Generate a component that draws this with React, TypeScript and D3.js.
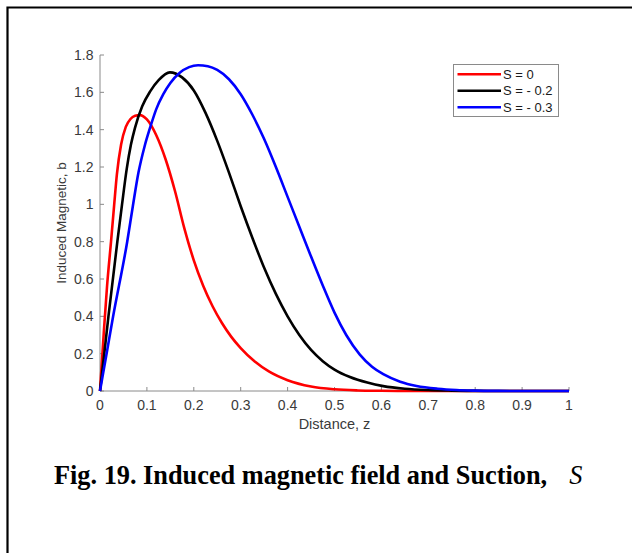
import React from "react";
import * as d3 from "d3";

const xTicks = [0, 0.1, 0.2, 0.3, 0.4, 0.5, 0.6, 0.7, 0.8, 0.9, 1];
const xTickLabels = ["0", "0.1", "0.2", "0.3", "0.4", "0.5", "0.6", "0.7", "0.8", "0.9", "1"];
const yTicks = [0, 0.2, 0.4, 0.6, 0.8, 1, 1.2, 1.4, 1.6, 1.8];
const yTickLabels = ["0", "0.2", "0.4", "0.6", "0.8", "1", "1.2", "1.4", "1.6", "1.8"];

const seriesNames = ["S = 0", "S = - 0.2", "S = - 0.3"];
const seriesColors = ["#ff0000", "#000000", "#0000ff"];

const redZ = [0, 0.008, 0.015, 0.0235, 0.03, 0.036, 0.045, 0.055, 0.065, 0.075, 0.085, 0.1, 0.12, 0.14, 0.16, 0.18, 0.2, 0.22, 0.24, 0.26, 0.28, 0.3, 0.33, 0.36, 0.4, 0.45, 0.5, 0.55, 0.6, 0.65, 0.8, 1.0];
const redB = [0, 0.31, 0.56, 0.8, 0.99, 1.16, 1.32, 1.415, 1.457, 1.474, 1.478, 1.455, 1.37, 1.24, 1.07, 0.87, 0.7, 0.564, 0.454, 0.364, 0.29, 0.23, 0.158, 0.105, 0.058, 0.024, 0.009, 0.003, 0.001, 0, 0, 0];

const blackZ = [0, 0.01, 0.018, 0.037, 0.047, 0.057, 0.066, 0.0746, 0.09, 0.107, 0.125, 0.149, 0.175, 0.2, 0.225, 0.25, 0.275, 0.3, 0.325, 0.35, 0.375, 0.4, 0.425, 0.45, 0.475, 0.5, 0.533, 0.57, 0.604, 0.65, 0.7, 0.75, 0.8, 0.85, 1.0];
const blackB = [0, 0.22, 0.4, 0.8, 1.0, 1.19, 1.32, 1.41, 1.525, 1.605, 1.665, 1.707, 1.68, 1.61, 1.49, 1.34, 1.17, 0.99, 0.82, 0.66, 0.52, 0.4, 0.3, 0.22, 0.16, 0.115, 0.075, 0.045, 0.026, 0.012, 0.005, 0.002, 0.0005, 0, 0];

const blueZ = [0, 0.014, 0.028, 0.058, 0.07, 0.082, 0.095, 0.108, 0.12, 0.135, 0.15, 0.17, 0.19, 0.209, 0.23, 0.25, 0.275, 0.3, 0.325, 0.35, 0.375, 0.4, 0.425, 0.45, 0.475, 0.5, 0.525, 0.554, 0.58, 0.604, 0.64, 0.675, 0.72, 0.76, 0.8, 0.85, 0.9, 1.0];
const blueB = [0, 0.2, 0.4, 0.8, 0.99, 1.17, 1.31, 1.42, 1.51, 1.59, 1.65, 1.705, 1.735, 1.745, 1.74, 1.72, 1.67, 1.59, 1.48, 1.35, 1.2, 1.04, 0.88, 0.72, 0.565, 0.42, 0.3, 0.195, 0.13, 0.09, 0.05, 0.027, 0.012, 0.005, 0.002, 0.0005, 0, 0];

const seriesZ = [redZ, blackZ, blueZ];
const seriesB = [redB, blackB, blueB];

const xLabel = "Distance, z";
const yLabel = "Induced Magnetic, b";
const captionMain = "Fig. 19. Induced magnetic field and Suction,";
const captionVar = "S";

export default function App() {
  const W = 632, H = 553;
  const x = d3.scaleLinear().domain([0, 1]).range([100, 569]);
  const y = d3.scaleLinear().domain([0, 1.8]).range([391, 55]);
  const line = d3
    .line<[number, number]>()
    .x((d) => x(d[0]))
    .y((d) => y(d[1]))
    .curve(d3.curveMonotoneX);
  const axisColor = "#8a8a8a";
  const textColor = "#3a3a3a";
  const fs = 14;
  const font = "'Liberation Sans', Arial, Helvetica, sans-serif";

  return (
    <svg
      width={W}
      height={H}
      style={{ position: "absolute", left: 0, top: 0, background: "#fff" }}
    >
      <rect x={0} y={0} width={W} height={H} fill="#fff" />
      <path d="M7.5,553 L7.5,7.5 L632,7.5" fill="none" stroke="#000" strokeWidth={2.2} />

      {/* axes */}
      <line x1={x(0)} x2={x(1)} y1={y(0)} y2={y(0)} stroke={axisColor} strokeWidth={1} />
      <line x1={x(0)} x2={x(0)} y1={y(0)} y2={y(1.8)} stroke={axisColor} strokeWidth={1} />
      {xTicks.map((t, i) => (
        <g key={"xt" + i}>
          <line x1={x(t)} x2={x(t)} y1={y(0)} y2={y(0) - 4} stroke={axisColor} strokeWidth={1} />
          <text
            x={x(t)}
            y={409.5}
            textAnchor="middle"
            fontFamily={font}
            fontSize={fs}
            fill={textColor}
          >
            {xTickLabels[i]}
          </text>
        </g>
      ))}
      {yTicks.map((t, i) => (
        <g key={"yt" + i}>
          <line x1={x(0)} x2={x(0) + 4} y1={y(t)} y2={y(t)} stroke={axisColor} strokeWidth={1} />
          <text
            x={93.5}
            y={y(t) + 5}
            textAnchor="end"
            fontFamily={font}
            fontSize={fs}
            fill={textColor}
          >
            {yTickLabels[i]}
          </text>
        </g>
      ))}
      <text
        x={334.5}
        y={429}
        textAnchor="middle"
        fontFamily={font}
        fontSize={14.5}
        fill={textColor}
      >
        {xLabel}
      </text>
      <text
        transform={`translate(65.5,${(y(0) + y(1.8)) / 2}) rotate(-90)`}
        textAnchor="middle"
        fontFamily={font}
        fontSize={13.5}
        fill={textColor}
      >
        {yLabel}
      </text>

      {/* curves */}
      {seriesZ.map((zs, si) => (
        <path
          key={"s" + si}
          d={line(zs.map((z, k) => [z, seriesB[si][k]]) as [number, number][]) || ""}
          fill="none"
          stroke={seriesColors[si]}
          strokeWidth={2.6}
          strokeLinejoin="round"
        />
      ))}

      {/* legend */}
      <rect x={453.5} y={64.5} width={105} height={52} fill="#fff" stroke="#8a8a8a" strokeWidth={1} />
      {seriesNames.map((n, i) => {
        const ly = 74.3 + i * 16.5;
        return (
          <g key={"lg" + i}>
            <line x1={457.5} x2={501} y1={ly} y2={ly} stroke={seriesColors[i]} strokeWidth={2.6} />
            <text x={503} y={ly + 4.6} fontFamily={font} fontSize={13} fill="#1a1a1a">
              {n}
            </text>
          </g>
        );
      })}

      {/* caption */}
      <text
        x={54}
        y={484}
        fontFamily="'Liberation Serif', 'Times New Roman', serif"
        fontSize={26.3}
        fontWeight="bold"
        fill="#000"
      >
        {captionMain}
        <tspan dx={22} fontStyle="italic" fontWeight="normal">
          {captionVar}
        </tspan>
      </text>
    </svg>
  );
}
